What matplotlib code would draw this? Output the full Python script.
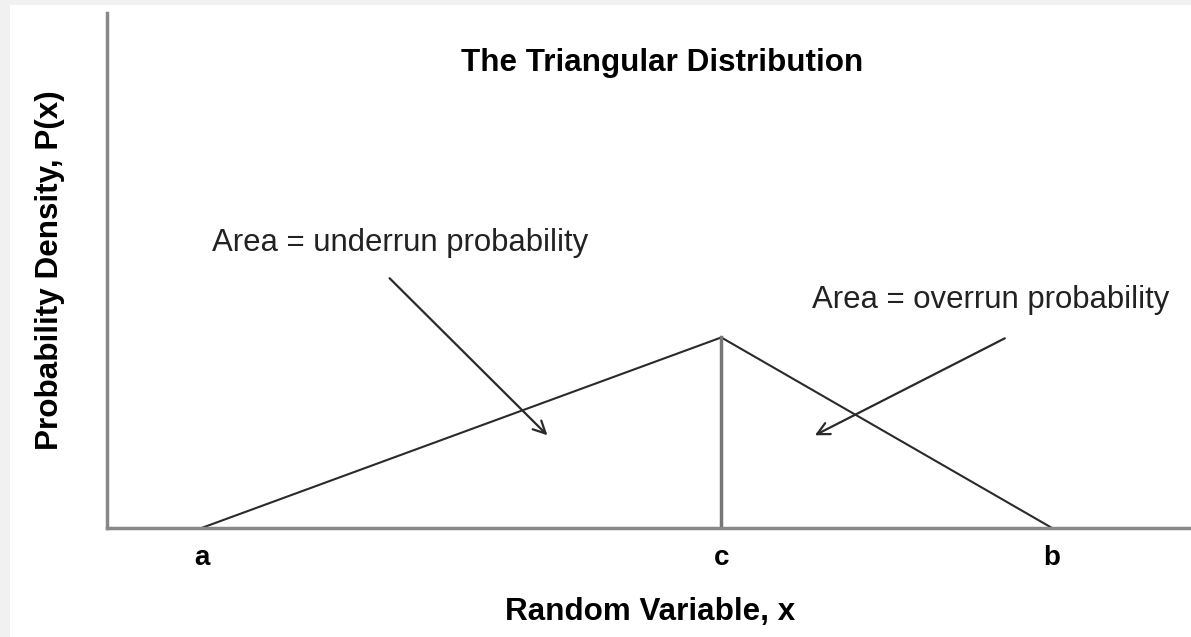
import numpy as np
import matplotlib.pyplot as plt
from matplotlib.patches import Rectangle

plt.rcParams['font.family'] = ['Liberation Sans', 'DejaVu Sans']

# points of the triangle
labels = ['a', 'c', 'b']
xpos = [1.0, 6.5, 10.0]
dens = [0.0, 0.222, 0.0]

# annotations: text, text position, arrow tail, arrow head
notes = ['Area = underrun probability', 'Area = overrun probability']
note_xy = [(1.11, 0.332), (7.46, 0.266)]
arrow_from = [(2.99, 0.291), (9.50, 0.221)]
arrow_to = [(4.66, 0.108), (7.49, 0.108)]

W, H = 1191, 637
fig = plt.figure(figsize=(W / 100, H / 100), dpi=100)
fig.patch.set_facecolor('#f1f1f1')
fig.patches.append(Rectangle((10 / W, 0), 1, 1 - 5 / H, transform=fig.transFigure,
                             facecolor='white', edgecolor='none', zorder=-10))

ax = fig.add_axes([107 / W, 109 / H, (W - 107) / W, 515 / H])
ax.set_facecolor('none')
ax.plot(xpos, dens, color='#2a2a2a', lw=1.5, solid_joinstyle='miter')
ax.plot([xpos[1], xpos[1]], [0, dens[1]], color='#777777', lw=2.5)

ax.set_xlim(0, 11.47)
ax.set_ylim(0, 0.6)
for s in ['top', 'right']:
    ax.spines[s].set_visible(False)
for s in ['left', 'bottom']:
    ax.spines[s].set_color('#888888')
    ax.spines[s].set_linewidth(2.5)

ax.set_yticks([])
ax.set_xticks(xpos)
ax.set_xticklabels(labels, fontsize=20, fontweight='bold')
ax.tick_params(axis='x', length=0, pad=12)

ax.text(5.87, 0.542, 'The Triangular Distribution', fontsize=22.6, fontweight='bold',
        ha='center', va='center')

for t, xy, p0, p1 in zip(notes, note_xy, arrow_from, arrow_to):
    ax.text(xy[0], xy[1], t, fontsize=22.4, ha='left', va='center', color='#222222')
    ax.annotate('', xy=p1, xytext=p0,
                arrowprops=dict(arrowstyle='->', color='#2a2a2a', lw=1.6,
                                mutation_scale=22, shrinkA=0, shrinkB=0))

ax.set_xlabel('Random Variable, x', fontsize=22.6, fontweight='bold', va='center')
ax.xaxis.set_label_coords(0.501, -0.163)
ax.set_ylabel('Probability Density, P(x)', fontsize=22.6, fontweight='bold', va='center')
ax.yaxis.set_label_coords(-0.0526, 0.501)

fig.savefig('out.png', dpi=100, facecolor=fig.get_facecolor())
